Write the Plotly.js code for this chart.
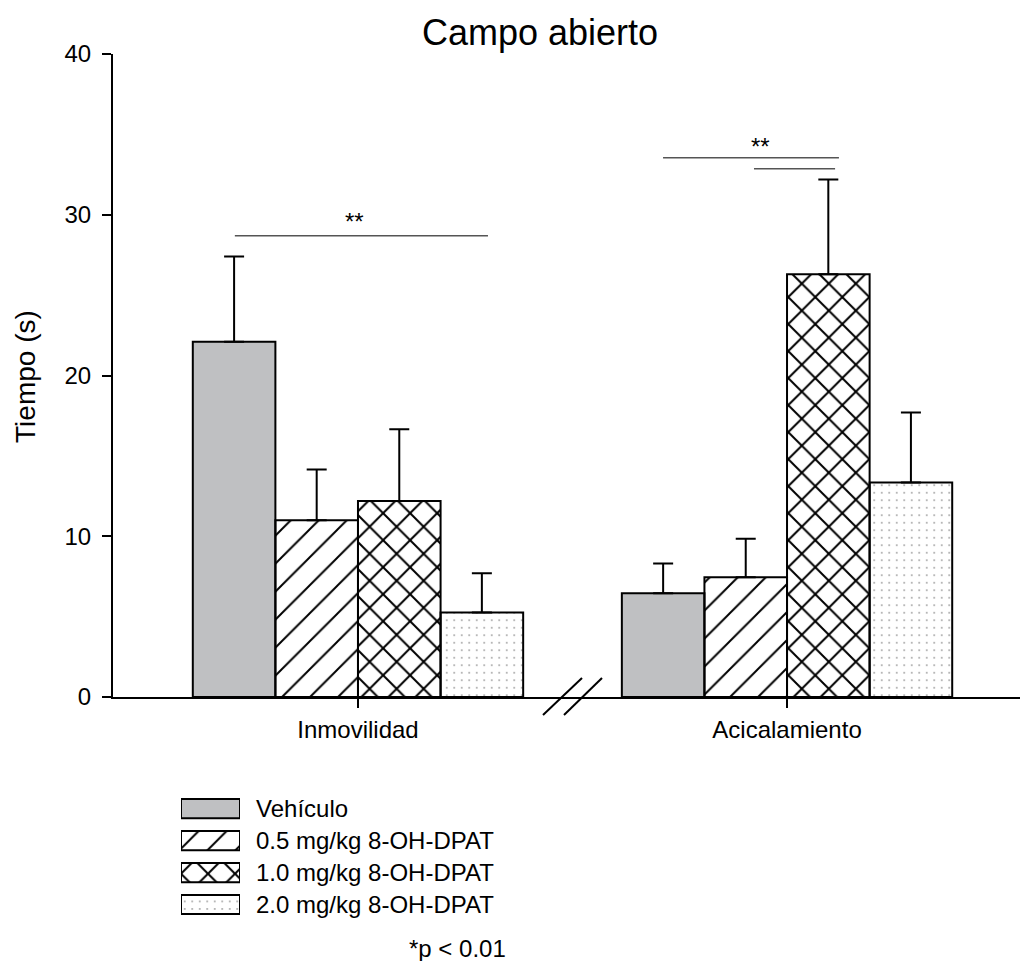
<!DOCTYPE html>
<html>
<head>
<meta charset="utf-8">
<script src="https://cdn.plot.ly/plotly-3.0.1.min.js"></script>
<style>html,body{margin:0;padding:0;background:#fff;}#chart{width:1021px;height:961px;}</style>
</head>
<body>
<div id="chart"></div>
<script>
// ---- data ----
const categories = ['Inmovilidad', 'Acicalamiento'];
const seriesNames = ['Vehículo', '0.5 mg/kg 8-OH-DPAT', '1.0 mg/kg 8-OH-DPAT', '2.0 mg/kg 8-OH-DPAT'];
const vehiculo = [22.1, 6.45];
const vehiculoErr = [5.3, 1.85];
const dpat05 = [11.0, 7.45];
const dpat05Err = [3.15, 2.4];
const dpat10 = [12.2, 26.3];
const dpat10Err = [4.45, 5.9];
const dpat20 = [5.25, 13.35];
const dpat20Err = [2.45, 4.35];
const yTickVals = [0, 10, 20, 30, 40];
const sigLabel = '**';
const footnote = '*p < 0.01';

// ---- styles ----
const FONT = 'Arial, "Liberation Sans", sans-serif';
const styles = [
  {color: '#bfc0c2', pattern: {shape: ''}},
  {color: '#ffffff', pattern: {shape: '/', size: 19.8, solidity: 0.1, fgcolor: '#000', fillmode: 'replace'}},
  {color: '#ffffff', pattern: {shape: 'x', size: 19.1, solidity: 0.2, fgcolor: '#000', fillmode: 'replace'}},
  {color: '#ffffff', pattern: {shape: '.', size: 7.5, solidity: 0.025, fgcolor: '#444', fillmode: 'replace'}}
];
const values = [vehiculo, dpat05, dpat10, dpat20];
const errs = [vehiculoErr, dpat05Err, dpat10Err, dpat20Err];

const traces = [];
values.forEach((v, i) => {
  traces.push({
    type: 'bar', x: categories, y: v, name: seriesNames[i], showlegend: false,
    marker: {color: styles[i].color, pattern: styles[i].pattern, line: {color: '#000', width: 2}},
    error_y: {type: 'data', symmetric: false, array: errs[i], arrayminus: errs[i].map(() => 0),
              color: '#000', thickness: 2, width: 10},
    xaxis: 'x', yaxis: 'y', hoverinfo: 'skip'
  });
});
// legend swatches (drawn as bars on a small helper axis)
seriesNames.forEach((n, i) => {
  traces.push({
    type: 'bar', orientation: 'h', y: [i], x: [1], base: 0, width: 0.6, offset: -0.3,
    showlegend: false, hoverinfo: 'skip',
    marker: {color: styles[i].color, pattern: styles[i].pattern, line: {color: '#000', width: 2}},
    xaxis: 'x2', yaxis: 'y2'
  });
});

const annotations = [
  {text: 'Tiempo (s)', textangle: -90, xref: 'paper', yref: 'paper', x: -0.0959, y: 0.6275,
   xanchor: 'center', yanchor: 'middle', showarrow: false, font: {family: FONT, size: 28, color: '#000'}},
  {text: sigLabel, xref: 'x', yref: 'y', x: -0.007, y: 29.59, showarrow: false,
   xanchor: 'center', yanchor: 'middle', font: {family: FONT, size: 24, color: '#000'}},
  {text: sigLabel, xref: 'x', yref: 'y', x: 0.938, y: 34.23, showarrow: false,
   xanchor: 'center', yanchor: 'middle', font: {family: FONT, size: 24, color: '#000'}},
  {text: footnote, xref: 'paper', yref: 'paper', x: (457 - 113) / 907, y: (921 - 948) / 867,
   xanchor: 'center', yanchor: 'middle', showarrow: false, font: {family: FONT, size: 24, color: '#000'}}
];
seriesNames.forEach((n, i) => {
  annotations.push({text: n, xref: 'paper', yref: 'y2', x: (254 - 113) / 907, y: i,
    xanchor: 'left', yanchor: 'middle', showarrow: false, font: {family: FONT, size: 24, color: '#000'}});
});

const shapes = [
  {type: 'line', xref: 'x', yref: 'y', x0: -0.287, x1: 0.303, y0: 28.7, y1: 28.7, line: {color: '#555', width: 1.5}},
  {type: 'line', xref: 'x', yref: 'y', x0: 0.711, x1: 1.121, y0: 33.54, y1: 33.54, line: {color: '#555', width: 1.5}},
  {type: 'line', xref: 'x', yref: 'y', x0: 0.923, x1: 1.112, y0: 32.86, y1: 32.86, line: {color: '#555', width: 1.5}},
  // axis break marks
  {type: 'line', xref: 'paper', yref: 'paper', x0: (543 - 113) / 907, x1: (582 - 113) / 907,
   y0: (921 - 715) / 867, y1: (921 - 678) / 867, line: {color: '#000', width: 2}},
  {type: 'line', xref: 'paper', yref: 'paper', x0: (564 - 113) / 907, x1: (602 - 113) / 907,
   y0: (921 - 715) / 867, y1: (921 - 678) / 867, line: {color: '#000', width: 2}}
];

const layout = {
  width: 1021, height: 961,
  margin: {l: 113, r: 1, t: 54, b: 40, pad: 0},
  paper_bgcolor: '#fff', plot_bgcolor: '#fff',
  font: {family: FONT, color: '#000'},
  title: {text: 'Campo abierto', font: {family: FONT, size: 36, color: '#000'},
          xref: 'container', yref: 'container', x: 540 / 1021, y: 1 - 32 / 961, xanchor: 'center', yanchor: 'middle'},
  barmode: 'group', bargap: 0.23, bargroupgap: 0,
  xaxis: {type: 'category', range: [-0.571, 1.543], domain: [0, 1], anchor: 'y',
          showline: true, linecolor: '#000', linewidth: 2, ticks: 'outside', ticklen: 9, tickwidth: 2,
          tickcolor: '#000', showgrid: false, zeroline: false, ticklabelstandoff: 1,
          tickfont: {family: FONT, size: 24, color: '#000'}},
  yaxis: {range: [0, 40], domain: [(921 - 697) / 867, 1], anchor: 'x', tickvals: yTickVals,
          showline: true, linecolor: '#000', linewidth: 2, ticks: 'outside', ticklen: 9, tickwidth: 2,
          tickcolor: '#000', showgrid: false, zeroline: false, ticklabelstandoff: 6,
          tickfont: {family: FONT, size: 24, color: '#000'}},
  xaxis2: {domain: [(181 - 113) / 907, (240 - 113) / 907], range: [0, 1], anchor: 'y2', visible: false, fixedrange: true},
  yaxis2: {domain: [0.0006, 0.148], range: [3.5, -0.5], anchor: 'x2', visible: false, fixedrange: true},
  annotations: annotations,
  shapes: shapes
};

Plotly.newPlot('chart', traces, layout, {staticPlot: true, displayModeBar: false});
</script>
</body>
</html>
